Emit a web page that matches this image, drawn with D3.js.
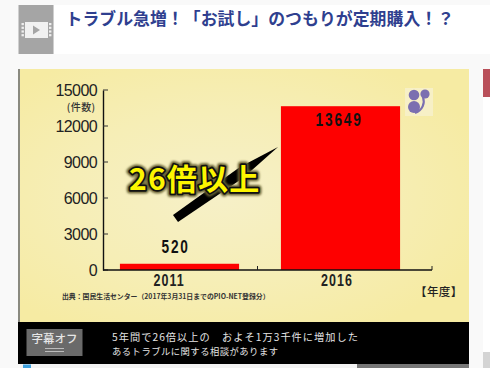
<!DOCTYPE html>
<html><head><meta charset="utf-8">
<script src="https://cdn.jsdelivr.net/npm/d3@7/dist/d3.min.js"></script>
<style>html,body{margin:0;padding:0;background:#fff;overflow:hidden}</style></head>
<body><svg id="c" width="490" height="368"></svg>
<script>
const categories = ["2011","2016"];
const values = [520,13649];
const tickValues = [0,3000,6000,9000,12000,15000];
const titleText = "トラブル急増！「お試し」のつもりが定期購入！？";
const sourceText = "出典：国民生活センター（2017年3月31日までのPIO-NET登録分）";
const captionLines = ["5年間で26倍以上の　およそ1万3千件に増加した","あるトラブルに関する相談があります"];
const calloutText = "26倍以上";
const jp = "'Noto Sans CJK JP','Noto Sans',sans-serif";
const latin = "'Liberation Sans',sans-serif";
const svg = d3.select("#c");
const defs = svg.append("defs");
const grad = defs.append("radialGradient").attr("id","bg").attr("cx","0.45").attr("cy","0.5").attr("r","0.62");
grad.append("stop").attr("offset","0").attr("stop-color","#f6f0c8");
grad.append("stop").attr("offset","0.55").attr("stop-color","#f6eeb6");
grad.append("stop").attr("offset","1").attr("stop-color","#f6eba3");
const blur = defs.append("filter").attr("id","soft").attr("x","-10%").attr("y","-20%").attr("width","120%").attr("height","140%");
blur.append("feGaussianBlur").attr("stdDeviation",1.1);
const rect=(x,y,w,h,f)=>svg.append("rect").attr("x",x).attr("y",y).attr("width",w).attr("height",h).attr("fill",f);
const text=(x,y,s,size,fill,opt={})=>{const t=svg.append("text").attr("x",x).attr("y",y).text(s)
  .attr("font-size",size).attr("fill",fill).attr("font-family",opt.family||jp)
  .attr("text-anchor",opt.anchor||"start").attr("font-weight",opt.weight||"normal");
  if(opt.spacing)t.attr("letter-spacing",opt.spacing);
  if(opt.length)t.attr("textLength",opt.length).attr("lengthAdjust","spacing");
  return t;};

// page
rect(0,0,490,368,"#f9f9f9");
rect(54,5,436,49,"#ffffff");
rect(18.5,5,35,49,"#a5a5a5");
rect(25,22,23,16,"#f1f1f1");
svg.append("path").attr("d","M33,25.5L40,30L33,34.5Z").attr("fill","#a5a5a5");
d3.range(4).forEach(i=>{rect(21.5,23+i*3.7,2.4,2.2,"#efefef");rect(49,23+i*3.7,2.4,2.2,"#efefef");});
text(65.5,25,titleText,16.85,"#2f3f8f",{weight:"bold",spacing:0.05});
rect(483,69,7,28,"#b9505a");
rect(483,97,7,255,"#ffffff");
rect(483,352,7,16,"#d4d4d4");

// chart panel
rect(18,69,451,253,"url(#bg)");
rect(18,69,2,253,"#8a8a80");

const y = d3.scaleLinear().domain([0,15000]).range([270,90]);
const x = d3.scaleBand().domain(categories).range([99,421]).paddingInner(0.26).paddingOuter(0.13);

svg.selectAll("rect.bar").data(values).join("rect").attr("class","bar")
  .attr("x",(d,i)=>x(categories[i])).attr("width",x.bandwidth())
  .attr("y",d=>y(d)).attr("height",d=>y(0)-y(d)).attr("fill","#fe0000");

const yAxis = d3.axisLeft(y).tickValues(tickValues).tickSize(0).tickPadding(0).tickFormat("");
const ya = svg.append("g").attr("transform","translate(103,0)").call(yAxis);
ya.select(".domain").attr("stroke","#111").attr("stroke-width",1.4);
svg.selectAll("line.yt").data(tickValues).join("line").attr("class","yt")
  .attr("x1",103).attr("x2",108).attr("y1",d=>y(d)).attr("y2",d=>y(d)).attr("stroke","#333").attr("stroke-width",1);
svg.selectAll("text.yl").data(tickValues).join("text").attr("class","yl")
  .attr("x",97).attr("y",d=>y(d)+6).attr("text-anchor","end").attr("font-size",16)
  .attr("letter-spacing",-0.6).attr("font-family",latin).attr("fill","#222").text(d=>d);
text(95.5,111,"(件数)",10,"#333",{anchor:"end",weight:"500",spacing:0.4});

// x axis
svg.append("line").attr("x1",103).attr("x2",432).attr("y1",270).attr("y2",270).attr("stroke","#111").attr("stroke-width",1.5);
[257.5,432].forEach(px=>svg.append("line").attr("x1",px).attr("x2",px).attr("y1",266).attr("y2",270).attr("stroke","#222"));
const categoryShift = [-10.4,-3.4];
svg.selectAll("text.xl").data(categories).join("text").attr("class","xl")
  .attr("transform",(d,i)=>`translate(${x(d)+x.bandwidth()/2+categoryShift[i]},285.5) scale(0.78,1)`)
  .attr("text-anchor","middle").attr("font-size",16).attr("font-weight","bold")
  .attr("font-family",latin).attr("letter-spacing",1.4).attr("fill","#222").text(d=>d);

// value labels
const labelY = [253,125.5];
const labelShift = [-3.9,-1.4];
svg.selectAll("text.vl").data(values).join("text").attr("class","vl")
  .attr("transform",(d,i)=>`translate(${x(categories[i])+x.bandwidth()/2+labelShift[i]},${labelY[i]}) scale(0.76,1)`)
  .attr("text-anchor","middle").attr("font-size",18).attr("font-weight","bold")
  .attr("font-family",latin).attr("letter-spacing",2.4).attr("fill","#111").text(d=>d);

// arrow
svg.append("path").attr("d","M173,215L178,222L243,178L278,147L240,167Z").attr("fill","#000");

// callout
const cg = (stroke,w,extra)=>{const t=text(129,189.5,calloutText,30,stroke,{weight:"bold",spacing:1.2});
  t.attr("stroke",stroke).attr("stroke-width",w).attr("stroke-linejoin","round");if(extra)t.attr("filter",extra);return t;};
cg("#6b6436",7,"url(#soft)");
cg("#111",3.5);
text(129,189.5,calloutText,30,"#fdf600",{weight:"bold",spacing:1.2});

// logo
rect(405,88,28,28,"#f7f0c6");
const logo="#7b6fb0";
svg.append("circle").attr("cx",414).attr("cy",95).attr("r",5.3).attr("fill",logo);
svg.append("circle").attr("cx",425).attr("cy",94).attr("r",4.6).attr("fill",logo);
svg.append("circle").attr("cx",414).attr("cy",107).attr("r",6).attr("fill",logo);
svg.append("path").attr("d","M423,97C425,103,423,110,415,113").attr("fill","none").attr("stroke",logo).attr("stroke-width",2.2);

// footer texts
text(62,299,sourceText,6.86,"#333",{weight:"bold"});
text(415,296,"【年度】",11.5,"#222",{weight:"500",spacing:0.4});

// caption band
rect(18,322,451,42,"#000");
rect(26.5,329,56,27,"#6a6a6a");
text(54.5,343,"字幕オフ",11.5,"#e6e6e6",{anchor:"middle",weight:"500"});
[348,351].forEach(py=>rect(45,py,19,1,"#bbbbbb"));
const captionSize=[10.2,9.3], captionLength=[246,166];
captionLines.forEach((s,i)=>text(112,341+i*14,s,captionSize[i],"#e4e4e4",{length:captionLength[i]}));
rect(20,364,449,4,"#f3f3f3");
rect(23,364.5,8,3.5,"#3ea0dd");
rect(357,364,112,4,"#777777");
</script></body></html>
